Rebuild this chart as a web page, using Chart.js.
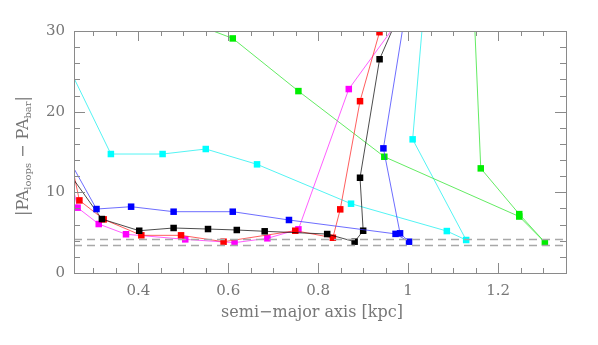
<!DOCTYPE html>
<html>
<head>
<meta charset="utf-8">
<script src="https://cdn.jsdelivr.net/npm/chart.js@4/dist/chart.umd.min.js"></script>
<style>
  html, body { margin: 0; padding: 0; background: #fff; }
  #wrap { width: 598px; height: 345px; }
</style>
</head>
<body>
<div id="wrap"><canvas id="c" width="598" height="345"></canvas></div>
<script>
// ---- data (semi-major axis [kpc], |PA_loops - PA_bar| [deg]) ----
const cyanX    = [0.22, 0.339, 0.454, 0.550, 0.664, 0.873, 1.086, 1.129, 1.010, 1.046];
const cyanY    = [28.4, 14.75, 14.75, 15.37, 13.47, 8.59, 5.20, 4.09, 16.57, 40.0];
const greenX   = [0.50, 0.610, 0.756, 0.947, 1.247, 1.304, 1.247, 1.1615, 1.137];
const greenY   = [31.4, 29.08, 22.55, 14.41, 7.00, 3.80, 7.30, 12.97, 45.0];
const blueX    = [0.22, 0.307, 0.384, 0.4785, 0.610, 0.735, 0.972, 1.002, 0.982, 0.945, 1.016];
const blueY    = [16.65, 7.93, 8.22, 7.60, 7.60, 6.57, 4.85, 3.88, 4.92, 15.45, 40.0];
const blackX   = [0.22, 0.319, 0.402, 0.4785, 0.555, 0.619, 0.681, 0.820, 0.881, 0.900, 0.893, 0.9365, 0.995];
const blackY   = [14.4, 6.69, 5.24, 5.58, 5.45, 5.33, 5.17, 4.83, 3.88, 5.24, 11.81, 26.5, 34.0];
const redX     = [0.25, 0.269, 0.323, 0.4067, 0.495, 0.5896, 0.749, 0.8326, 0.849, 0.893, 0.9363];
const redY     = [14.0, 9.00, 6.65, 4.67, 4.67, 3.88, 5.24, 4.37, 7.89, 21.3, 29.85];
const magentaX = [0.25, 0.265, 0.312, 0.3726, 0.5044, 0.614, 0.687, 0.756, 0.868, 1.014];
const magentaY = [11.8, 8.10, 6.07, 4.80, 4.17, 3.76, 4.30, 5.41, 22.8, 34.0];
const dashLevels = [4.2, 3.5];
const xTickLabels = [0.4, 0.6, 0.8, 1.0, 1.2];
const yTickLabels = [0, 10, 20, 30];

const pts = (xs, ys) => xs.map((x, i) => ({ x: x, y: ys[i] }));
function ds(xs, ys, color, lineColor) {
  return {
    data: pts(xs, ys),
    borderColor: lineColor,
    backgroundColor: color,
    pointBorderColor: color,
    borderWidth: 1,
    pointStyle: 'rect',
    pointRadius: 4.6,
    pointBorderWidth: 0,
    pointHoverRadius: 4.6,
    tension: 0,
    fill: false
  };
}

const FRAME = '#8a8a8a';
const TXT = '#777777';
const FONT = '"DejaVu Serif", "Liberation Serif", serif';

const framePlugin = {
  id: 'frame',
  afterDatasetsDraw(chart) {
    const { ctx, chartArea: a, scales: { x, y } } = chart;
    ctx.save();
    ctx.strokeStyle = '#a8a8a8';
    ctx.lineWidth = 1.4;
    ctx.setLineDash([8, 5]);
    dashLevels.forEach(v => {
      const py = Math.round(y.getPixelForValue(v)) + 0.5;
      ctx.beginPath(); ctx.moveTo(a.left, py); ctx.lineTo(a.right, py); ctx.stroke();
    });
    ctx.setLineDash([]);
    ctx.strokeStyle = FRAME;
    ctx.lineWidth = 1;
    ctx.strokeRect(a.left + 0.5, a.top + 0.5, a.right - a.left, a.bottom - a.top);
    for (let k = Math.ceil(x.min / 0.05); k * 0.05 <= x.max + 1e-9; k++) {
      const v = k * 0.05;
      const major = Math.abs(v / 0.2 - Math.round(v / 0.2)) < 1e-6;
      const len = major ? 10 : 5;
      const px = Math.round(x.getPixelForValue(v)) + 0.5;
      ctx.beginPath();
      ctx.moveTo(px, a.bottom); ctx.lineTo(px, a.bottom - len);
      ctx.moveTo(px, a.top); ctx.lineTo(px, a.top + len);
      ctx.stroke();
    }
    for (let v = 0; v <= 30; v += 2) {
      const major = v % 10 === 0;
      const len = major ? 11 : 6;
      const py = Math.round(y.getPixelForValue(v)) + 0.5;
      ctx.beginPath();
      ctx.moveTo(a.left, py); ctx.lineTo(a.left + len, py);
      ctx.moveTo(a.right, py); ctx.lineTo(a.right - len, py);
      ctx.stroke();
    }
    ctx.restore();
  },
  afterDraw(chart) {
    const { ctx, chartArea: a } = chart;
    ctx.save();
    ctx.fillStyle = TXT;
    ctx.font = '16px ' + FONT;
    ctx.textAlign = 'center';
    ctx.textBaseline = 'middle';
    ctx.fillText('semi\u2212major axis [kpc]', (a.left + a.right) / 2 - 8, 313);
    const big = '16px ' + FONT, small = '10px ' + FONT;
    const parts = [['|PA', big, 0], ['loops', small, 4], [' \u2212 PA', big, 0], ['bar', small, 4], ['|', big, 0]];
    let total = 0;
    parts.forEach(p => { ctx.font = p[1]; total += ctx.measureText(p[0]).width; });
    ctx.translate(24, (a.top + a.bottom) / 2 + 4);
    ctx.rotate(-Math.PI / 2);
    ctx.textAlign = 'left';
    ctx.textBaseline = 'middle';
    let cx = -total / 2;
    parts.forEach(p => {
      ctx.font = p[1];
      ctx.fillText(p[0], cx, p[2]);
      cx += ctx.measureText(p[0]).width;
    });
    ctx.restore();
  }
};

new Chart(document.getElementById('c'), {
  type: 'line',
  data: {
    datasets: [
      ds(blueX, blueY, '#0000ff', 'rgba(60,60,255,0.75)'),
      ds(blackX, blackY, '#000000', 'rgba(0,0,0,0.7)'),
      ds(redX, redY, '#ff0000', 'rgba(255,40,40,0.75)'),
      ds(magentaX, magentaY, '#ff00ff', 'rgba(255,40,255,0.75)'),
      ds(greenX, greenY, '#00ee00', 'rgba(60,230,60,0.8)'),
      ds(cyanX, cyanY, '#00ffff', 'rgba(40,240,240,0.8)')
    ]
  },
  options: {
    responsive: false,
    animation: false,
    devicePixelRatio: 1,
    layout: { padding: { top: 31, right: 32, left: 0, bottom: 0 } },
    plugins: { legend: { display: false }, tooltip: { enabled: false } },
    scales: {
      x: {
        type: 'linear', min: 0.257, max: 1.351,
        grid: { display: false, drawTicks: false },
        border: { display: false },
        afterBuildTicks: s => { s.ticks = xTickLabels.map(v => ({ value: v })); },
        afterFit: s => { s.height = 72; },
        ticks: {
          padding: 9, color: TXT, maxRotation: 0, autoSkip: false,
          font: { family: FONT, size: 15 },
          callback: v => String(+Number(v).toFixed(2))
        }
      },
      y: {
        type: 'linear', min: 0, max: 30,
        grid: { display: false, drawTicks: false },
        border: { display: false },
        afterBuildTicks: s => { s.ticks = yTickLabels.map(v => ({ value: v })); },
        afterFit: s => { s.width = 74; },
        ticks: {
          padding: 9, color: TXT,
          font: { family: FONT, size: 15 }
        }
      }
    }
  },
  plugins: [framePlugin]
});
</script>
</body>
</html>
